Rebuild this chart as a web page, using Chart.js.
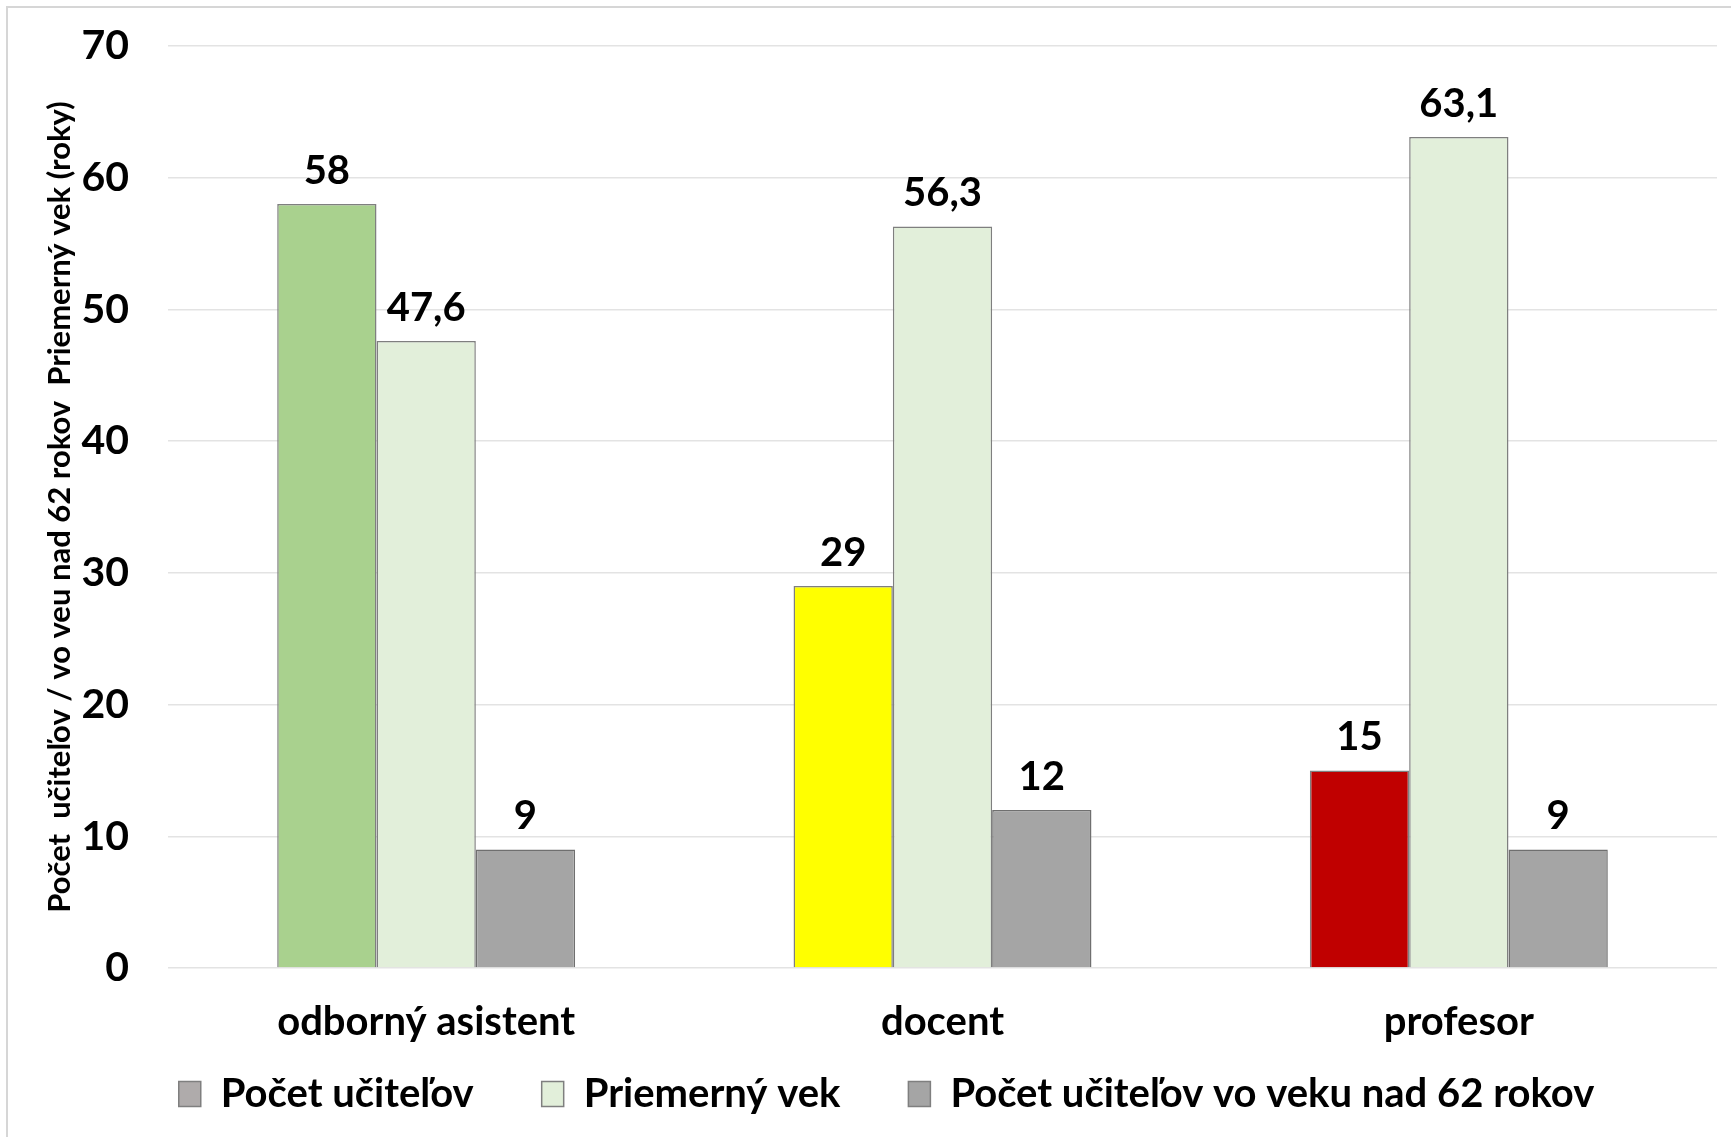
<!DOCTYPE html>
<html>
<head>
<meta charset="utf-8">
<script src="https://cdn.jsdelivr.net/npm/chart.js@4"></script>
<style>
  html, body { margin: 0; padding: 0; background: #fff; }
  #wrap { width: 1731px; height: 1137px; position: relative; }
</style>
</head>
<body>
<div id="wrap"><canvas id="chart"></canvas></div>
<script>
const categories = ['odborný asistent', 'docent', 'profesor'];
const seriesNames = ['Počet učiteľov', 'Priemerný vek', 'Počet učiteľov vo veku nad 62 rokov'];
const teacherCounts = [58, 29, 15];
const averageAge = [47.6, 56.3, 63.1];
const countsOver62 = [9, 12, 9];
const yTicks = [0, 10, 20, 30, 40, 50, 60, 70];
const yTitle = 'Počet  učiteľov / vo veu nad 62 rokov  Priemerný vek (roky)';

const fontFamily = 'Lato, "Open Sans", sans-serif';
const legendHeight = 127;
const legendShiftX = 24;

// frame line at top and left like the original screenshot crop
const framePlugin = {
    id: 'frame',
    beforeDraw: (chart) => {
        const { ctx } = chart;
        ctx.save();
        ctx.fillStyle = '#fff';
        ctx.fillRect(0, 0, chart.width, chart.height);
        ctx.strokeStyle = '#d6d6d6';
        ctx.lineWidth = 2;
        ctx.beginPath();
        ctx.moveTo(7, chart.height);
        ctx.lineTo(7, 7);
        ctx.lineTo(chart.width, 7);
        ctx.stroke();
        ctx.restore();
    },
};

// legend keeps a wide item padding but a fixed box height, nudged right a bit
const legendSize = {
    id: 'legendSize',
    beforeLayout: (chart) => {
        const legend = chart.legend;
        if (!legend || legend._sizePatched) {
            return;
        }
        const originalFit = legend.fit;
        legend.fit = function () {
            originalFit.call(this);
            this.height = legendHeight;
        };
        const originalDraw = legend.draw;
        legend.draw = function () {
            this.ctx.save();
            this.ctx.translate(legendShiftX, 0);
            originalDraw.call(this);
            this.ctx.restore();
        };
        legend._sizePatched = true;
    },
};

const valueLabels = {
    id: 'valueLabels',
    afterDatasetsDraw: (chart) => {
        const { ctx } = chart;
        ctx.save();
        ctx.font = `bold 40px ${fontFamily}`;
        ctx.fillStyle = '#000';
        ctx.textAlign = 'center';
        ctx.textBaseline = 'middle';
        chart.data.datasets.forEach((dataset, di) => {
            chart.getDatasetMeta(di).data.forEach((bar, i) => {
                const text = String(dataset.data[i]).replace('.', ',');
                ctx.fillText(text, bar.x, bar.y - 33);
            });
        });
        ctx.restore();
    },
};

new Chart(document.getElementById('chart'), {
    type: 'bar',
    data: {
        labels: categories,
        datasets: [
            {
                label: seriesNames[0],
                data: teacherCounts,
                backgroundColor: ['#A9D18E', '#FFFF00', '#C00000'],
                borderColor: '#7f7f7f',
                borderWidth: 1.5,
            },
            {
                label: seriesNames[1],
                data: averageAge,
                backgroundColor: '#E2EFDA',
                borderColor: '#7f7f7f',
                borderWidth: 1.5,
            },
            {
                label: seriesNames[2],
                data: countsOver62,
                backgroundColor: '#A5A5A5',
                borderColor: '#6f6f6f',
                borderWidth: 1.5,
            },
        ],
    },
    options: {
        responsive: true,
        maintainAspectRatio: false,
        animation: false,
        datasets: {
            bar: {
                categoryPercentage: 0.577,
                barPercentage: 1,
            },
        },
        layout: {
            padding: { left: 8, right: 14, top: 46, bottom: 4 },
        },
        plugins: {
            legend: {
                position: 'bottom',
                labels: {
                    color: '#000',
                    font: { family: fontFamily, size: 40, weight: 'bold' },
                    boxWidth: 22,
                    boxHeight: 25,
                    padding: 68,
                    generateLabels: (chart) => {
                        const fills = ['#AFABAB', '#E2EFDA', '#A5A5A5'];
                        return chart.data.datasets.map((ds, i) => ({
                            text: ds.label,
                            fillStyle: fills[i],
                            strokeStyle: '#7f7f7f',
                            lineWidth: 1.5,
                            datasetIndex: i,
                            fontColor: '#000',
                        }));
                    },
                },
            },
            tooltip: { enabled: false },
        },
        scales: {
            x: {
                grid: { display: false },
                border: { display: false },
                ticks: {
                    color: '#000',
                    padding: 22,
                    font: { family: fontFamily, size: 40, weight: 'bold' },
                },
                afterFit: (scale) => {
                    scale.height = 38;
                    scale.paddingLeft = 0;
                    scale.paddingRight = 0;
                    // labels sit below the thin axis box, so do not clip them to it
                    scale._computeLabelArea = () => undefined;
                },
            },
            y: {
                min: 0,
                max: 70,
                afterBuildTicks: (scale) => {
                    scale.ticks = yTicks.map((v) => ({ value: v }));
                },
                grid: { color: '#e3e3e3', lineWidth: 1.5, drawTicks: false },
                border: { display: false },
                ticks: {
                    color: '#000',
                    padding: 39,
                    font: { family: fontFamily, size: 41, weight: 'bold' },
                },
                title: {
                    display: true,
                    text: yTitle,
                    color: '#000',
                    font: { family: fontFamily, size: 31, weight: 'bold' },
                    padding: { top: 33, bottom: 0 },
                },
                afterFit: (scale) => {
                    scale.width = 160;
                    scale.paddingTop = 0;
                    scale.paddingBottom = 0;
                },
            },
        },
    },
    plugins: [framePlugin, legendSize, valueLabels],
});
</script>
</body>
</html>
